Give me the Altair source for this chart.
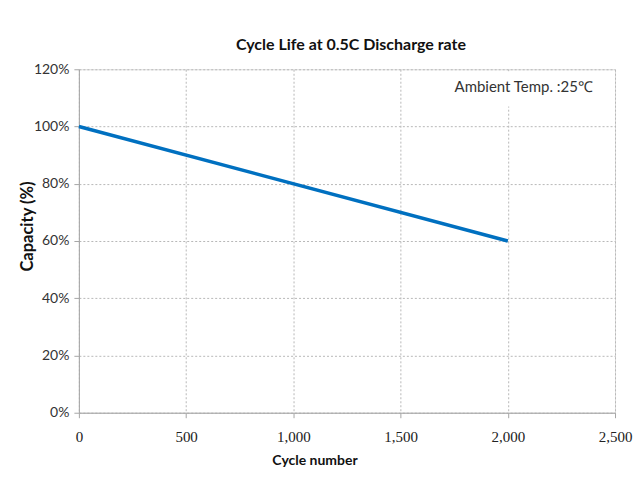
import altair as alt
import pandas as pd

# Data
cycles = [0, 2000]
capacity = [100, 60]

note_text = ["Ambient Temp. :25℃"]
note_x = [2397]
note_y = [113.8]

mask_x = [1700]
mask_x2 = [2480]
mask_y = [107]
mask_y2 = [119.3]

x_ticks = [0, 500, 1000, 1500, 2000, 2500]
y_ticks = [0, 20, 40, 60, 80, 100, 120]

line_df = pd.DataFrame({"cycle": cycles, "capacity": capacity})
note_df = pd.DataFrame({"text": note_text, "x": note_x, "y": note_y})
mask_df = pd.DataFrame({"x": mask_x, "x2": mask_x2, "y": mask_y, "y2": mask_y2})

x_scale = alt.Scale(domain=[0, 2500], nice=False)
y_scale = alt.Scale(domain=[0, 120], nice=False)

x_axis = alt.Axis(
    title="Cycle number",
    values=x_ticks,
    format=",d",
    labelFlush=False,
    labelFont="Liberation Serif",
    labelFontSize=15,
    labelColor="#222222",
    labelPadding=12,
    titleFont="Lato",
    titleFontWeight="bold",
    titleFontSize=14,
    titleColor="#111111",
    titleX=236,
    titleY=48,
    titleAlign="center",
    titleBaseline="middle",
    grid=True,
    gridDash=[2, 2],
    gridColor="#b8b8b8",
    domainColor="#a6a6a6",
    tickColor="#a6a6a6",
    tickSize=5,
)

y_axis = alt.Axis(
    title="Capacity (%)",
    values=y_ticks,
    labelExpr="datum.value + '%'",
    labelFlush=False,
    labelFont="Lato",
    labelFontSize=14,
    labelColor="#333333",
    labelPadding=5,
    titleFont="Lato",
    titleFontWeight="bold",
    titleFontSize=16.5,
    titleColor="#111111",
    titleX=-51,
    titleY=157,
    titleAngle=270,
    titleAlign="center",
    titleBaseline="middle",
    grid=True,
    gridDash=[2, 2],
    gridColor="#b8b8b8",
    domainColor="#a6a6a6",
    tickColor="#a6a6a6",
    tickSize=5,
)

mask = alt.Chart(mask_df).mark_rect(color="white").encode(
    x=alt.X("x:Q", scale=x_scale),
    x2="x2:Q",
    y=alt.Y("y:Q", scale=y_scale),
    y2="y2:Q",
)

base_line = alt.Chart(line_df).mark_line(color="#0070C0", strokeWidth=3.5).encode(
    x=alt.X("cycle:Q", scale=x_scale, axis=x_axis),
    y=alt.Y("capacity:Q", scale=y_scale, axis=y_axis),
)

note = alt.Chart(note_df).mark_text(
    align="right", baseline="middle", font="Lato", fontSize=15, color="#333333"
).encode(
    x=alt.X("x:Q", scale=x_scale),
    y=alt.Y("y:Q", scale=y_scale),
    text="text:N",
)

chart = alt.layer(mask, base_line, note).properties(
    width=537,
    height=344,
    title=alt.TitleParams(
        "Cycle Life at 0.5C Discharge rate",
        font="Lato",
        fontSize=16,
        fontWeight="bold",
        color="#111111",
        anchor="middle",
        offset=9,
        dx=4,
    ),
    autosize=alt.AutoSizeParams(type="none"),
    padding={"left": 71, "top": 61, "right": 20, "bottom": 55},
).configure_view(
    stroke="#a6a6a6", strokeWidth=1
).configure(background="white")

chart.save("out.html", embed_options={"renderer": "svg", "actions": False})
